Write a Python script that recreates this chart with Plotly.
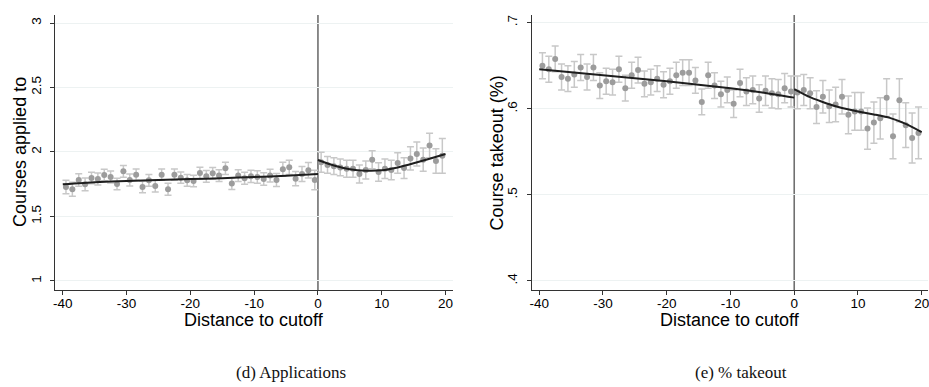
import plotly.graph_objects as go

# ---------------- data: panel (d) Applications ----------------
d_x_left = [-39.5 + i for i in range(40)]
d_y_left = [1.729, 1.711, 1.783, 1.749, 1.798, 1.791, 1.822, 1.806, 1.752, 1.850,
            1.783, 1.824, 1.729, 1.780, 1.736, 1.824, 1.711, 1.824, 1.801, 1.780,
            1.775, 1.837, 1.811, 1.835, 1.817, 1.873, 1.755, 1.817, 1.796, 1.811,
            1.806, 1.791, 1.817, 1.783, 1.866, 1.881, 1.793, 1.829, 1.858, 1.783]
d_e_left = [0.052, 0.055, 0.048, 0.050, 0.045, 0.047, 0.045, 0.046, 0.044, 0.045,
            0.047, 0.044, 0.046, 0.045, 0.046, 0.044, 0.046, 0.044, 0.043, 0.045,
            0.045, 0.044, 0.045, 0.045, 0.046, 0.047, 0.045, 0.046, 0.047, 0.048,
            0.048, 0.048, 0.050, 0.050, 0.055, 0.055, 0.055, 0.058, 0.060, 0.075]
d_x_right = [0.5 + i for i in range(20)]
d_y_right = [1.920, 1.900, 1.890, 1.880, 1.870, 1.870, 1.830, 1.860, 1.940, 1.845,
             1.870, 1.860, 1.915, 1.875, 1.950, 1.985, 1.940, 2.050, 1.930, 1.970]
d_e_right = [0.078, 0.065, 0.065, 0.065, 0.065, 0.065, 0.070, 0.070, 0.070, 0.072,
             0.075, 0.075, 0.080, 0.080, 0.090, 0.093, 0.090, 0.095, 0.095, 0.135]
d_fit_x_left = [-40, -35, -30, -25, -20, -15, -10, -5, 0]
d_fit_y_left = [1.749, 1.765, 1.775, 1.783, 1.790, 1.797, 1.806, 1.816, 1.829]
d_fit_x_right = [0, 2.5, 5, 7.5, 10, 12.5, 15, 17.5, 20]
d_fit_y_right = [1.938, 1.895, 1.866, 1.855, 1.858, 1.880, 1.912, 1.948, 1.985]

# ---------------- data: panel (e) % takeout ----------------
e_x_left = [-39.5 + i for i in range(40)]
e_y_left = [0.650, 0.646, 0.658, 0.637, 0.635, 0.640, 0.648, 0.637, 0.648, 0.627,
            0.632, 0.631, 0.646, 0.624, 0.639, 0.645, 0.629, 0.631, 0.635, 0.628,
            0.632, 0.639, 0.642, 0.642, 0.633, 0.608, 0.639, 0.627, 0.617, 0.622,
            0.606, 0.630, 0.620, 0.622, 0.612, 0.621, 0.618, 0.617, 0.624, 0.620]
e_e_left = [0.015] * 30 + [0.016, 0.016, 0.016, 0.016, 0.016, 0.017, 0.017, 0.017, 0.017, 0.018]
e_x_right = [0.5 + i for i in range(20)]
e_y_right = [0.619, 0.622, 0.618, 0.602, 0.614, 0.603, 0.605, 0.614, 0.593, 0.597,
             0.597, 0.577, 0.584, 0.589, 0.613, 0.568, 0.610, 0.581, 0.566, 0.572]
e_e_right = [0.019, 0.018, 0.018, 0.019, 0.019, 0.019, 0.020, 0.020, 0.022, 0.022,
             0.022, 0.024, 0.024, 0.024, 0.022, 0.026, 0.025, 0.026, 0.029, 0.030]
e_fit_x_left = [-40, -35, -30, -25, -20, -15, -10, -5, 0]
e_fit_y_left = [0.646, 0.6425, 0.639, 0.6355, 0.632, 0.628, 0.624, 0.619, 0.613]
e_fit_x_right = [0, 2.5, 5, 7.5, 10, 12.5, 15, 17.5, 20]
e_fit_y_right = [0.623, 0.6135, 0.6065, 0.601, 0.597, 0.5935, 0.5895, 0.5825, 0.573]

# tick labels
x_ticks = [-40, -30, -20, -10, 0, 10, 20]
x_tick_text = ["-40", "-30", "-20", "-10", "0", "10", "20"]
d_ticks = [1, 1.5, 2, 2.5, 3]
d_tick_text = ["1", "1.5", "2", "2.5", "3"]
e_ticks = [0.4, 0.5, 0.6, 0.7]
e_tick_text = [".4", ".5", ".6", ".7"]

titles = {"d_y": "Courses applied to", "e_y": "Course takeout (%)", "x": "Distance to cutoff"}
captions = ["(d) Applications", "(e) % takeout"]

# ---------------- styling ----------------
W, H = 929, 387
MARK = "#9c9c9c"
ERR = "#c8c8c8"
FIT = "#1e1e1e"
SANS = "Liberation Sans, Arial, Helvetica, sans-serif"
SERIF = "Liberation Serif, Times New Roman, serif"


def py(p):
    return 1 - p / H


def px(p):
    return p / W


fig = go.Figure()


def add_points(x, y, e, xa, ya):
    fig.add_trace(go.Scatter(
        x=x, y=y, mode="markers", xaxis=xa, yaxis=ya,
        marker=dict(color=MARK, size=6),
        error_y=dict(type="data", array=e, visible=True, color=ERR, thickness=1.5, width=3.5),
        showlegend=False, hoverinfo="x+y"))


def add_fit(x, y, xa, ya):
    fig.add_trace(go.Scatter(
        x=x, y=y, mode="lines", xaxis=xa, yaxis=ya,
        line=dict(color=FIT, width=2, shape="spline", smoothing=0.6),
        showlegend=False, hoverinfo="skip"))


add_points(d_x_left, d_y_left, d_e_left, "x", "y")
add_points(d_x_right, d_y_right, d_e_right, "x", "y")
add_fit(d_fit_x_left, d_fit_y_left, "x", "y")
add_fit(d_fit_x_right, d_fit_y_right, "x", "y")

add_points(e_x_left, e_y_left, e_e_left, "x2", "y2")
add_points(e_x_right, e_y_right, e_e_right, "x2", "y2")
add_fit(e_fit_x_left, e_fit_y_left, "x2", "y2")
add_fit(e_fit_x_right, e_fit_y_right, "x2", "y2")

y_dom = [py(290), py(15)]
axis_common = dict(showline=True, linecolor="#333333", linewidth=1, mirror=False,
                   ticks="outside", ticklen=4, tickcolor="#333333", tickwidth=1,
                   zeroline=False, ticklabeloverflow="allow",
                   tickfont=dict(family=SANS, size=13.5, color="#000"))

fig.update_layout(
    width=W, height=H, margin=dict(l=0, r=0, t=0, b=0),
    paper_bgcolor="white", plot_bgcolor="white",
    xaxis=dict(domain=[px(53.3), px(452)], range=[-41.2, 21.1], tickvals=x_ticks,
               ticktext=x_tick_text, ticklabelstandoff=-3,
               showgrid=False, anchor="y", **axis_common),
    yaxis=dict(domain=y_dom, range=[0.930, 3.062], tickvals=d_ticks, ticktext=d_tick_text,
               tickangle=-90, ticklabelstandoff=4, showgrid=True, gridcolor="#edf2f2",
               gridwidth=1, anchor="x", **axis_common),
    xaxis2=dict(domain=[px(531.7), 1.0], range=[-41.14, 20.99], tickvals=x_ticks,
                ticktext=x_tick_text, ticklabelstandoff=-3,
                showgrid=False, anchor="y2", **axis_common),
    yaxis2=dict(domain=y_dom, range=[0.3895, 0.709], tickvals=e_ticks, ticktext=e_tick_text,
                tickangle=-90, ticklabelstandoff=5, showgrid=True, gridcolor="#edf2f2",
                gridwidth=1, anchor="x2", **axis_common),
)

# vertical cutoff lines
for xr, yr in (("x", "y domain"), ("x2", "y2 domain")):
    fig.add_shape(type="line", xref=xr, yref=yr, x0=0, x1=0, y0=0, y1=1,
                  line=dict(color="#707070", width=1.6), layer="below")

title_font = dict(family=SANS, size=18, color="#000")
fig.add_annotation(text=titles["x"], xref="paper", yref="paper", x=px(252.7), y=py(320),
                   showarrow=False, font=title_font, xanchor="center", yanchor="middle")
fig.add_annotation(text=titles["x"], xref="paper", yref="paper", x=px(730.5), y=py(320),
                   showarrow=False, font=title_font, xanchor="center", yanchor="middle")
fig.add_annotation(text=titles["d_y"], xref="paper", yref="paper", x=px(18), y=py(152),
                   showarrow=False, font=title_font, textangle=-90,
                   xanchor="center", yanchor="middle")
fig.add_annotation(text=titles["e_y"], xref="paper", yref="paper", x=px(497), y=py(153),
                   showarrow=False, font=title_font, textangle=-90,
                   xanchor="center", yanchor="middle")

cap_font = dict(family=SERIF, size=17, color="#111")
fig.add_annotation(text=captions[0], xref="paper", yref="paper", x=px(290), y=py(372),
                   showarrow=False, font=cap_font, xanchor="center", yanchor="middle")
fig.add_annotation(text=captions[1], xref="paper", yref="paper", x=px(741), y=py(372),
                   showarrow=False, font=cap_font, xanchor="center", yanchor="middle")

fig.write_html("out.html")
